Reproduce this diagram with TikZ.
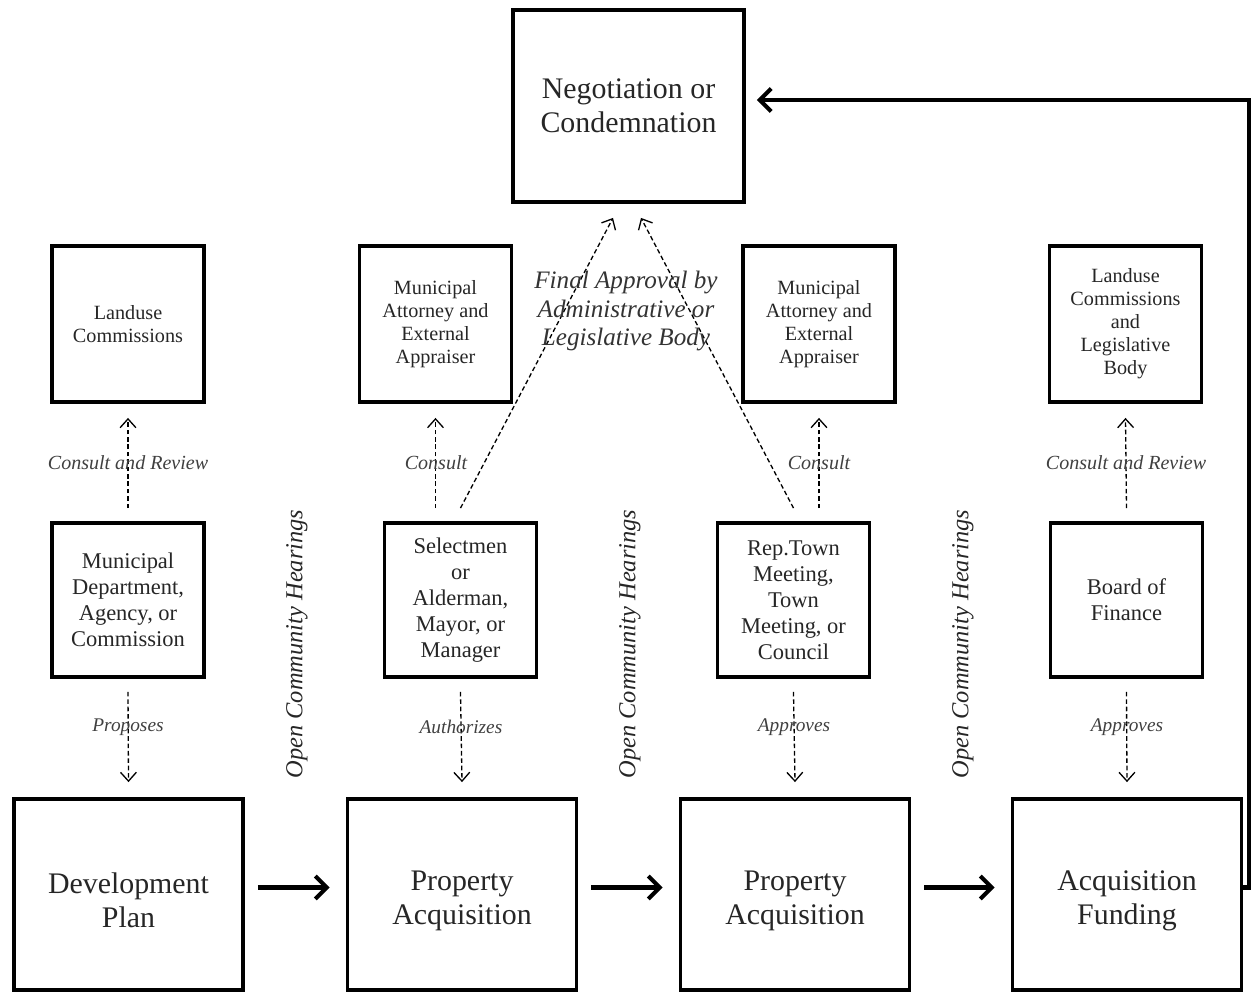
\documentclass[tikz,border=0pt]{standalone}
\usepackage{fontspec}
\setmainfont{Liberation Serif}
\usetikzlibrary{arrows.meta}
\begin{document}
\begin{tikzpicture}[x=0.02cm,y=-0.02cm,
  bigbox/.style={draw, line width=2.2pt, minimum width=4.58cm, minimum height=3.82cm, inner sep=0pt, align=center, text=black!85, font=\fontsize{17}{19.3}\selectfont},
  negbox/.style={bigbox, minimum width=4.62cm, minimum height=3.84cm},
  midbox/.style={draw, line width=2.2pt, minimum width=3.04cm, minimum height=3.08cm, inner sep=0pt, align=center, text=black!85, font=\fontsize{12.8}{14.8}\selectfont},
  topbox/.style={draw, line width=2.2pt, minimum width=3.04cm, minimum height=3.12cm, inner sep=0pt, align=center, text=black!85, font=\fontsize{11.5}{13.1}\selectfont},
  lab/.style={inner sep=0pt, text=black!75, font=\fontsize{11.4}{13}\selectfont\itshape},
  dlab/.style={inner sep=0pt, text=black!75, font=\fontsize{11}{13}\selectfont\itshape},
  hear/.style={inner sep=0pt, rotate=90, text=black!85, font=\fontsize{13.9}{16}\selectfont\itshape},
  dasharrow/.style={line width=0.75pt, dash pattern=on 2.6pt off 1.6pt, -{Straight Barb[length=5pt,width=9pt,line width=0.75pt]}},
  thickarrow/.style={line width=2.3pt, -{Straight Barb[length=6.5pt,width=13pt,line width=2.3pt]}}
]
\useasboundingbox (0,0) rectangle (1252,994);

% bottom row
\node[bigbox] (dev) at (128.5,894.5) {\strut\\[-14pt]Development\\Plan};
\node[bigbox] (pa1) at (462,894.5) {\strut\\[-14pt]Property\\Acquisition};
\node[bigbox] (pa2) at (795,894.5) {\strut\\[-14pt]Property\\Acquisition};
\node[bigbox] (fund) at (1127,894.5) {\strut\\[-14pt]Acquisition\\Funding};

% middle row
\node[midbox] (mdept) at (128,600) {Municipal\\Department,\\Agency, or\\Commission};
\node[midbox] (sel) at (460.5,600) {Selectmen\\or\\Alderman,\\Mayor, or\\Manager};
\node[midbox] (rep) at (793.5,600) {Rep.Town\\Meeting,\\Town\\Meeting, or\\Council};
\node[midbox] (bof) at (1126.5,600) {Board of\\Finance};

% top row
\node[topbox] (land1) at (128,324) {Landuse\\Commissions};
\node[topbox] (att1) at (435.5,324) {Municipal\\Attorney and\\External\\Appraiser};
\node[topbox] (att2) at (819,324) {Municipal\\Attorney and\\External\\Appraiser};
\node[topbox] (land2) at (1125.5,324) {Landuse\\Commissions\\and\\Legislative\\Body};

% top
\node[negbox] (neg) at (628.5,106) {Negotiation or\\Condemnation};

% thick arrows
\draw[thickarrow] ([xshift=13*0.02cm, yshift=7*0.02cm]dev.east) -- ([xshift=-16*0.02cm, yshift=7*0.02cm]pa1.west);
\draw[thickarrow] ([xshift=13*0.02cm, yshift=7*0.02cm]pa1.east) -- ([xshift=-16*0.02cm, yshift=7*0.02cm]pa2.west);
\draw[thickarrow] ([xshift=13*0.02cm, yshift=7*0.02cm]pa2.east) -- ([xshift=-16*0.02cm, yshift=7*0.02cm]fund.west);
\draw[thickarrow] ([yshift=7*0.02cm]fund.east) -- ++(6,0) |- ([xshift=11*0.02cm, yshift=6*0.02cm]neg.east);

% upward dashed arrows
\draw[dasharrow] ([yshift=13*0.02cm]mdept.north) -- ([yshift=-14*0.02cm]land1.south);
\draw[dasharrow] ([yshift=13*0.02cm]att1.south |- sel.north) -- ([yshift=-14*0.02cm]att1.south);
\draw[dasharrow] ([yshift=13*0.02cm]att2.south |- rep.north) -- ([yshift=-14*0.02cm]att2.south);
\draw[dasharrow] ([yshift=13*0.02cm]bof.north) -- ([yshift=-14*0.02cm]land2.south);

% to negotiation
\draw[dasharrow] ([yshift=13*0.02cm]sel.north) -- ([xshift=-15.5*0.02cm, yshift=-14*0.02cm]neg.south);
\draw[dasharrow] ([yshift=13*0.02cm]rep.north) -- ([xshift=12.5*0.02cm, yshift=-14*0.02cm]neg.south);

% downward dashed arrows
\draw[dasharrow] ([yshift=-13*0.02cm]mdept.south) -- ([yshift=15*0.02cm]dev.north);
\draw[dasharrow] ([yshift=-13*0.02cm]sel.south) -- ([yshift=15*0.02cm]pa1.north);
\draw[dasharrow] ([yshift=-13*0.02cm]rep.south) -- ([yshift=15*0.02cm]pa2.north);
\draw[dasharrow] ([yshift=-13*0.02cm]bof.south) -- ([yshift=15*0.02cm]fund.north);

% labels
\node[lab] (l1) at (128,463) {Consult and Review};
\node[lab] (l2) at (436,463) {Consult};
\node[lab] (l3) at (819,463) {Consult};
\node[lab] (l4) at (1126,463) {Consult and Review};
\node[dlab] (d1) at (128,727) {Proposes};
\node[dlab] (d2) at (461,727) {Authorizes};
\node[dlab] (d3) at (794,727) {Approves};
\node[dlab] (d4) at (1127,727) {Approves};

\node[inner sep=0pt, align=center, text=black!80, font=\fontsize{14.3}{16.2}\selectfont\itshape] (fa) at (626,311) {Final Approval by\\Administrative or\\Legislative Body};

\node[hear] (h1) at (297,644) {Open Community Hearings};
\node[hear] (h2) at (630,644) {Open Community Hearings};
\node[hear] (h3) at (963,644) {Open Community Hearings};
\end{tikzpicture}
\end{document}
